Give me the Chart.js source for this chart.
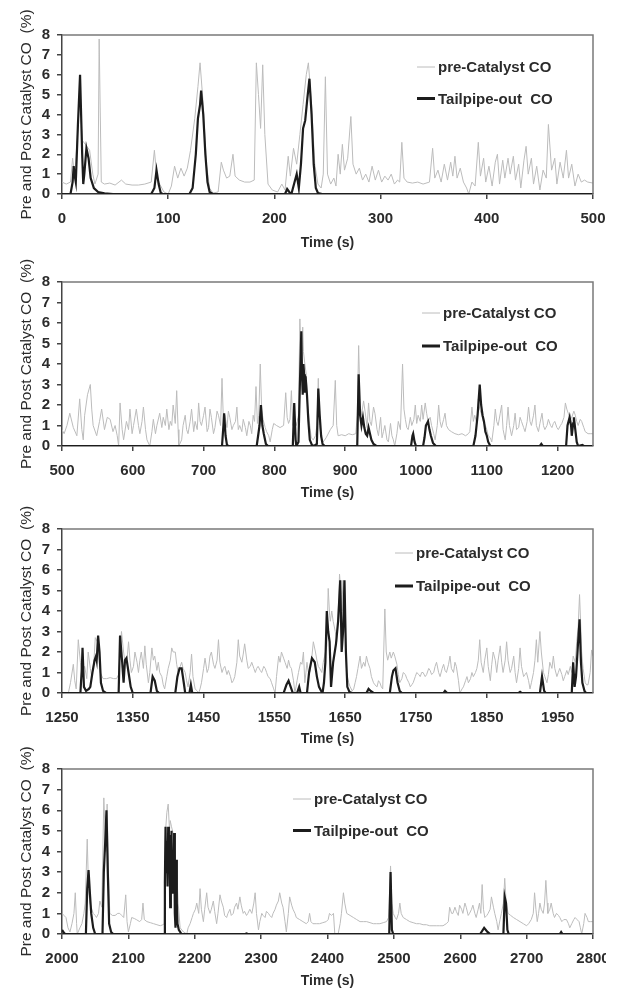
<!DOCTYPE html>
<html>
<head>
<meta charset="utf-8">
<script src="https://cdn.jsdelivr.net/npm/chart.js@4.4.1/dist/chart.umd.min.js"></script>
<style>
  body { margin: 0; background: #fff; }
  .panel { position: absolute; left: 0; width: 606px; overflow: hidden; }
</style>
</head>
<body>
<div class="panel" style="top:0;height:252px"><canvas id="c1"></canvas></div>
<div class="panel" style="top:247px;height:255px"><canvas id="c2"></canvas></div>
<div class="panel" style="top:494px;height:254px"><canvas id="c3"></canvas></div>
<div class="panel" style="top:734px;height:256px"><canvas id="c4"></canvas></div>
<script>
// series labels
var seriesNames = ['pre-Catalyst CO', 'Tailpipe-out  CO'];

// tick labels
var yTicks = [0, 1, 2, 3, 4, 5, 6, 7, 8];
var ticks1 = [0, 100, 200, 300, 400, 500];
var ticks2 = [500, 600, 700, 800, 900, 1000, 1100, 1200];
var ticks3 = [1250, 1350, 1450, 1550, 1650, 1750, 1850, 1950];
var ticks4 = [2000, 2100, 2200, 2300, 2400, 2500, 2600, 2700, 2800];

// [time (s), CO (%)]
var pre1 = [[0,0.6],[4,0.5],[8,0.6],[10,1.8],[12,0.9],[14,2.5],[17,5.0],[19,2.7],[22,2.5],[26,2.2],[29,1.0],[31,0.5],[34,1.0],[35,7.8],[37,0.6],[40,0.5],[45,0.55],[50,0.45],[56,0.7],[60,0.5],[66,0.45],[72,0.45],[78,0.5],[84,0.6],[87,2.2],[89,1.0],[92,0.5],[96,0.1],[100,0.0],[103,0.4],[106,1.4],[109,0.8],[112,1.3],[115,0.9],[118,1.3],[121,2.2],[125,3.8],[128,5.4],[130,6.6],[133,4.5],[136,1.5],[139,0.3],[142,0.05],[147,0.1],[150,1.6],[152,1.2],[155,0.8],[158,0.9],[161,2.0],[163,0.9],[167,0.7],[172,0.6],[177,0.6],[181,0.7],[183,6.6],[185,5.0],[187,3.3],[189,6.5],[191,3.0],[194,0.5],[198,0.2],[203,0.1],[207,0.5],[210,0.2],[213,1.9],[215,0.9],[218,2.3],[221,1.5],[224,3.0],[227,4.5],[230,6.0],[232,6.6],[235,4.5],[238,1.5],[241,0.5],[244,0.3],[246,1.0],[248,5.9],[250,1.0],[253,0.5],[256,0.8],[258,0.4],[260,2.0],[262,1.0],[264,2.5],[266,1.2],[269,1.8],[272,3.9],[274,1.5],[277,1.0],[280,1.3],[283,0.7],[286,1.0],[289,0.6],[292,1.4],[295,0.7],[298,1.2],[301,0.6],[304,0.9],[307,0.7],[310,1.0],[313,0.5],[316,0.7],[318,0.6],[320,2.6],[322,0.8],[325,0.6],[330,0.55],[335,0.6],[340,0.5],[346,0.6],[349,2.3],[351,0.8],[354,1.2],[357,0.6],[360,1.5],[363,0.7],[366,1.6],[368,0.9],[370,1.9],[372,0.8],[375,1.3],[378,0.6],[381,0.3],[383,0.0],[386,0.6],[389,0.4],[392,2.6],[394,0.9],[397,1.8],[399,0.6],[402,1.4],[405,0.4],[408,1.6],[410,2.0],[412,0.5],[415,1.7],[417,0.8],[420,1.8],[422,1.0],[425,1.9],[427,0.7],[430,1.5],[432,0.3],[435,1.7],[437,2.4],[439,1.0],[442,1.8],[444,0.5],[447,1.4],[450,0.2],[453,1.2],[456,0.8],[458,3.5],[461,1.2],[464,1.8],[466,0.5],[469,1.6],[472,0.8],[475,2.2],[477,0.8],[480,1.5],[483,0.4],[486,1.0],[489,0.6],[492,0.7],[495,0.6],[500,0.55]];
var tail1 = [[0,0],[8,0],[10,0.6],[11,1.4],[12,0.9],[13,0.6],[15,3.5],[17,6.0],[19,2.0],[20,0.5],[21,1.0],[23,2.3],[25,1.8],[27,0.8],[30,0.3],[34,0.1],[40,0.03],[48,0],[84,0],[87,0.3],[89,1.2],[91,0.5],[93,0.05],[95,0],[120,0],[123,0.3],[126,2.0],[128,3.8],[130,4.5],[131,5.2],[133,4.0],[135,2.0],[137,0.6],[139,0.1],[142,0],[210,0],[212,0.25],[214,0.1],[216,0],[219,0.6],[221,1.0],[223,0.3],[225,1.5],[227,3.3],[229,3.7],[231,4.8],[233,5.8],[235,4.0],[237,1.5],[239,0.3],[241,0.05],[245,0],[500,0]];

var pre2 = [[500,0.8],[503,0.6],[507,1.0],[511,1.6],[516,0.9],[521,0.5],[525,2.3],[528,0.8],[530,0.3],[532,1.5],[536,2.5],[540,3.0],[542,1.8],[544,1.0],[549,0.5],[553,1.2],[556,1.8],[560,0.8],[564,1.4],[568,1.3],[572,0.7],[575,1.0],[578,0.5],[580,0.0],[582,2.1],[585,0.8],[587,0.3],[591,1.2],[594,0.8],[596,1.8],[599,0.6],[601,1.0],[605,1.8],[608,1.0],[610,0.6],[613,1.2],[615,1.9],[618,0.8],[620,0.3],[624,0.0],[627,0.7],[629,1.3],[632,0.6],[634,1.0],[638,1.6],[641,0.9],[643,1.4],[646,1.0],[648,1.8],[651,0.8],[653,1.2],[655,1.0],[657,2.0],[660,1.1],[662,2.7],[664,0.8],[665,0.0],[669,0.3],[671,1.0],[674,1.5],[676,0.8],[678,0.6],[681,1.2],[683,1.8],[686,0.7],[688,1.2],[691,0.8],[693,2.1],[695,1.2],[697,1.0],[700,1.5],[702,1.9],[705,0.7],[707,0.9],[709,1.8],[711,1.4],[714,0.6],[716,0.9],[719,1.7],[721,1.5],[724,1.0],[726,3.3],[728,1.2],[730,1.5],[733,0.9],[735,1.7],[737,1.4],[740,0.8],[742,1.0],[745,1.2],[747,1.9],[749,0.8],[751,1.0],[754,0.7],[756,1.3],[759,0.9],[761,0.5],[764,1.2],[766,1.0],[768,0.6],[770,1.5],[772,1.2],[774,2.9],[776,1.1],[778,1.5],[780,4.0],[782,1.8],[784,1.3],[787,0.9],[789,0.7],[792,0.5],[794,0.2],[797,0.8],[799,1.1],[803,1.0],[808,0.9],[813,1.0],[816,2.6],[818,1.4],[820,1.1],[822,1.3],[824,2.7],[826,1.0],[828,1.5],[831,1.0],[834,1.5],[836,6.2],[838,4.0],[840,5.8],[841,4.6],[843,4.0],[845,3.5],[847,2.0],[850,1.0],[852,0.4],[855,0.3],[858,0.5],[860,1.0],[862,3.3],[864,1.0],[866,0.4],[869,0.2],[873,0.4],[879,0.8],[883,1.0],[886,3.2],[888,1.0],[890,0.5],[895,0.55],[900,0.5],[905,0.6],[910,0.55],[915,0.6],[917,1.5],[919,4.9],[921,2.0],[923,1.5],[926,2.2],[928,1.7],[931,0.9],[933,2.1],[935,1.2],[937,1.0],[940,1.9],[942,1.6],[945,0.8],[947,0.5],[950,1.4],[952,0.4],[954,0.7],[956,1.0],[959,0.3],[961,0.2],[964,1.1],[966,0.5],[968,0.3],[970,0.0],[973,0.6],[975,1.2],[978,0.8],[981,4.0],[983,1.8],[985,1.3],[987,0.9],[989,0.8],[992,1.4],[994,1.0],[997,1.3],[999,2.0],[1001,1.1],[1003,1.5],[1006,1.2],[1008,2.0],[1010,1.3],[1013,2.1],[1015,1.6],[1017,1.2],[1020,1.4],[1022,1.0],[1025,0.6],[1027,0.3],[1030,1.0],[1032,2.0],[1034,1.2],[1036,0.9],[1039,1.3],[1041,1.6],[1043,1.0],[1046,0.8],[1050,0.7],[1055,0.6],[1060,0.55],[1065,0.6],[1070,0.5],[1074,0.6],[1076,0.7],[1079,1.9],[1081,1.2],[1083,1.5],[1086,1.1],[1088,2.3],[1090,1.8],[1093,1.5],[1095,1.2],[1098,1.0],[1100,0.8],[1102,0.5],[1105,0.4],[1107,0.2],[1110,1.0],[1112,1.8],[1114,1.2],[1116,1.0],[1119,1.6],[1121,2.0],[1123,0.8],[1126,0.3],[1128,1.0],[1130,1.9],[1132,1.0],[1135,0.5],[1138,1.0],[1140,1.6],[1142,0.8],[1145,0.9],[1147,1.4],[1149,1.2],[1152,0.9],[1154,0.7],[1157,1.2],[1159,1.9],[1161,1.2],[1163,1.0],[1166,1.5],[1168,2.0],[1170,1.0],[1173,0.7],[1175,1.1],[1178,1.6],[1180,1.0],[1182,0.8],[1185,1.0],[1187,1.3],[1190,1.0],[1192,0.9],[1194,1.1],[1196,1.2],[1199,0.9],[1201,0.8],[1204,1.0],[1206,1.1],[1209,1.4],[1211,2.1],[1213,1.8],[1215,1.6],[1218,1.3],[1220,1.4],[1223,1.7],[1225,1.5],[1227,1.2],[1229,1.0],[1232,1.3],[1234,1.2],[1237,0.9],[1239,0.7],[1243,0.6],[1247,0.6],[1250,0.6]];
var tail2 = [[500,0],[726,0],[728,1.0],[729,1.6],[731,0.5],[733,0.05],[735,0],[775,0],[777,0.5],[779,1.0],[781,2.0],[783,1.0],[785,0.6],[788,0.1],[791,0],[826,0],[828,2.1],[830,0.3],[831,0],[834,0.2],[836,3.0],[838,5.6],[839,3.5],[840,2.5],[841,4.0],[842,3.5],[843,2.6],[844,3.4],[846,2.5],[848,1.2],[850,0.3],[853,0.05],[856,0],[860,0.1],[862,2.8],[864,1.5],[866,0.5],[868,0.1],[871,0],[917,0],[919,3.5],[921,1.5],[923,1.0],[925,1.4],[927,0.9],[929,0.6],[931,0.5],[933,0.9],[935,0.6],[937,0.3],[940,0.1],[944,0],[993,0],[995,0.5],[996,0.6],[998,0.2],[1000,0],[1010,0],[1012,0.4],[1014,1.0],[1017,1.2],[1019,0.8],[1021,0.5],[1024,0.15],[1028,0],[1081,0],[1084,0.5],[1087,1.5],[1090,3.0],[1092,2.0],[1094,1.5],[1096,1.2],[1098,0.7],[1100,0.5],[1102,0.2],[1105,0],[1175,0],[1177,0.1],[1179,0],[1212,0],[1214,1.0],[1217,1.4],[1219,1.0],[1220,0.5],[1222,1.1],[1223,1.4],[1225,0.8],[1227,0.2],[1229,0],[1235,0.05],[1237,0],[1250,0]];

var pre3 = [[1250,0.0],[1259,0.0],[1262,0.5],[1266,1.4],[1268,0.6],[1270,0.2],[1273,2.6],[1276,1.5],[1278,0.9],[1282,1.3],[1285,0.7],[1287,2.0],[1290,1.2],[1292,0.8],[1295,1.5],[1297,2.7],[1300,2.5],[1302,1.8],[1304,1.0],[1308,0.7],[1313,0.7],[1318,0.75],[1323,0.7],[1327,0.7],[1330,0.9],[1334,3.0],[1337,2.0],[1339,1.5],[1342,1.7],[1344,2.5],[1346,1.6],[1348,1.0],[1351,1.3],[1353,2.0],[1356,1.5],[1358,1.0],[1360,1.6],[1362,2.0],[1365,1.2],[1367,2.3],[1369,1.4],[1372,0.5],[1374,1.0],[1377,2.2],[1379,1.6],[1381,1.8],[1384,1.1],[1386,1.5],[1388,1.0],[1391,0.8],[1393,0.4],[1395,0.2],[1398,0.8],[1400,1.2],[1403,1.6],[1405,2.2],[1407,2.0],[1410,2.0],[1412,1.4],[1414,1.0],[1417,1.3],[1419,1.5],[1421,1.2],[1424,1.0],[1426,0.6],[1428,0.3],[1431,1.0],[1433,1.9],[1435,0.8],[1438,0.2],[1441,0.1],[1443,0.0],[1445,0.2],[1447,0.5],[1450,1.2],[1452,1.7],[1455,1.0],[1457,1.2],[1459,1.8],[1461,2.0],[1464,1.4],[1466,1.2],[1469,1.6],[1471,2.6],[1473,1.5],[1476,1.0],[1478,1.2],[1480,1.3],[1483,0.9],[1485,1.1],[1488,0.8],[1490,0.5],[1492,0.6],[1494,0.8],[1497,1.5],[1499,2.6],[1501,1.8],[1504,1.5],[1506,1.9],[1508,2.4],[1511,1.6],[1513,1.2],[1516,1.3],[1518,1.5],[1521,1.2],[1523,1.0],[1525,1.2],[1527,1.3],[1530,1.1],[1532,1.0],[1535,1.3],[1537,1.2],[1539,1.0],[1541,0.8],[1544,0.7],[1546,0.5],[1549,0.2],[1551,0.0],[1553,0.8],[1556,1.8],[1558,1.5],[1560,2.0],[1563,1.7],[1565,1.5],[1568,1.2],[1570,1.6],[1572,1.3],[1574,1.2],[1577,0.6],[1579,0.0],[1582,0.6],[1584,1.0],[1587,1.5],[1589,1.4],[1591,2.0],[1593,0.5],[1596,1.5],[1598,1.0],[1600,1.0],[1603,1.8],[1605,2.5],[1608,2.0],[1610,1.6],[1612,1.3],[1614,1.2],[1617,1.0],[1619,1.5],[1621,1.8],[1624,2.3],[1626,5.1],[1628,3.8],[1629,3.5],[1631,4.0],[1633,3.5],[1636,3.0],[1638,2.5],[1640,3.8],[1642,5.8],[1644,4.8],[1645,4.0],[1647,5.5],[1649,4.5],[1651,2.0],[1652,1.0],[1655,0.5],[1657,0.3],[1660,0.1],[1662,0.2],[1664,0.5],[1666,0.8],[1668,1.2],[1671,1.8],[1673,1.2],[1676,1.5],[1678,1.3],[1680,1.8],[1682,1.5],[1685,1.2],[1687,0.8],[1690,0.5],[1692,0.4],[1695,0.3],[1697,0.6],[1699,0.5],[1701,0.3],[1703,0.2],[1706,4.1],[1708,2.0],[1710,1.6],[1713,2.0],[1715,1.7],[1718,2.0],[1720,1.8],[1723,1.4],[1725,0.9],[1727,0.5],[1730,0.7],[1732,1.0],[1735,0.9],[1737,0.7],[1740,0.5],[1742,0.3],[1744,0.4],[1746,0.5],[1749,0.8],[1751,1.0],[1754,0.9],[1756,0.8],[1758,1.0],[1760,1.0],[1763,0.8],[1765,0.9],[1768,1.2],[1770,1.1],[1772,0.9],[1775,1.0],[1777,1.3],[1779,1.5],[1782,1.0],[1784,0.8],[1787,1.2],[1789,1.4],[1791,1.1],[1793,1.0],[1796,1.4],[1798,1.8],[1800,1.2],[1803,1.0],[1805,1.5],[1807,1.3],[1810,0.6],[1812,0.0],[1815,0.2],[1817,0.3],[1820,0.6],[1822,0.8],[1824,0.5],[1827,0.7],[1829,1.0],[1831,0.8],[1834,1.0],[1836,1.2],[1838,1.6],[1840,2.6],[1842,1.5],[1845,1.0],[1847,1.6],[1850,2.2],[1852,1.3],[1855,0.6],[1857,1.4],[1859,2.0],[1862,1.6],[1864,1.0],[1866,1.6],[1869,2.3],[1871,1.5],[1873,1.0],[1876,1.6],[1878,2.5],[1880,1.6],[1883,1.0],[1885,1.2],[1888,1.8],[1890,1.0],[1892,0.5],[1895,1.2],[1897,2.2],[1899,1.3],[1902,0.8],[1904,0.9],[1906,1.0],[1909,0.6],[1911,0.2],[1913,0.5],[1916,1.0],[1918,1.6],[1920,2.6],[1922,1.5],[1925,3.0],[1927,2.0],[1930,1.0],[1932,0.8],[1935,0.5],[1937,0.9],[1939,1.5],[1942,1.2],[1944,1.8],[1946,1.2],[1949,0.8],[1951,1.0],[1953,1.2],[1956,0.9],[1958,0.6],[1960,0.8],[1963,1.1],[1965,0.9],[1968,1.3],[1970,1.0],[1972,1.8],[1975,1.5],[1977,2.5],[1979,3.2],[1981,4.8],[1983,3.0],[1984,2.0],[1986,1.2],[1989,0.5],[1991,0.4],[1993,0.4],[1996,1.0],[1998,2.1],[2000,1.8]];
var tail3 = [[1250,0],[1276,0],[1278,1.2],[1279,2.2],[1281,0.3],[1284,0.1],[1288,0.2],[1290,0.3],[1293,1.0],[1296,1.6],[1298,1.8],[1299,1.6],[1301,2.8],[1303,2.0],[1305,0.5],[1308,0.1],[1312,0],[1330,0],[1332,2.8],[1335,1.5],[1337,0.5],[1339,1.6],[1341,1.7],[1344,1.0],[1347,0.3],[1350,0],[1375,0],[1378,0.8],[1381,0.6],[1384,0.1],[1387,0],[1410,0],[1413,0.8],[1416,1.2],[1419,1.2],[1422,0.5],[1424,0],[1430,0],[1432,0.4],[1434,0],[1563,0],[1567,0.4],[1570,0.6],[1573,0.3],[1576,0],[1582,0],[1585,0.3],[1587,0],[1596,0],[1599,1.0],[1603,1.7],[1607,1.5],[1610,0.8],[1613,0.3],[1616,0.1],[1618,0],[1620,0.5],[1622,1.5],[1624,4.0],[1626,3.0],[1628,2.5],[1630,0.3],[1633,1.5],[1637,2.4],[1640,3.5],[1643,5.5],[1645,2.0],[1647,3.0],[1649,5.5],[1651,2.0],[1653,0.3],[1656,0.05],[1660,0],[1680,0],[1683,0.2],[1686,0.1],[1690,0],[1713,0],[1716,0.8],[1718,1.1],[1721,1.2],[1724,0.5],[1727,0.1],[1730,0],[1789,0],[1791,0.1],[1794,0],[1895,0],[1897,0.05],[1899,0],[1925,0],[1928,0.8],[1931,0.1],[1933,0],[1970,0],[1972,1.5],[1974,0.3],[1976,0.8],[1979,2.5],[1981,3.6],[1983,1.5],[1985,0.5],[1988,0.1],[1990,0],[2000,0]];

var pre4 = [[2000,1.0],[2003,0.9],[2006,0.8],[2009,0.3],[2012,0.1],[2015,0.5],[2018,1.0],[2020,2.0],[2022,0.5],[2023,0.0],[2027,0.3],[2030,0.5],[2033,1.0],[2035,1.5],[2038,4.6],[2040,2.2],[2042,1.5],[2045,1.2],[2047,1.0],[2050,0.9],[2052,0.8],[2055,1.0],[2057,1.6],[2060,1.3],[2063,6.6],[2066,4.0],[2068,6.3],[2070,3.0],[2072,1.0],[2076,0.9],[2080,0.9],[2084,1.0],[2087,1.0],[2090,0.9],[2093,0.8],[2096,1.9],[2098,0.6],[2100,0.1],[2103,0.5],[2105,0.8],[2109,0.75],[2112,0.7],[2117,0.6],[2120,0.7],[2122,1.5],[2124,0.7],[2128,0.6],[2133,0.55],[2138,0.5],[2143,0.45],[2148,0.4],[2152,0.45],[2154,0.5],[2156,5.0],[2158,5.9],[2160,6.3],[2162,5.0],[2163,5.5],[2165,5.2],[2168,4.8],[2170,4.0],[2173,3.0],[2175,1.5],[2178,0.3],[2183,0.1],[2188,0.0],[2190,0.3],[2193,0.5],[2196,0.8],[2198,1.0],[2201,1.2],[2203,1.5],[2206,1.0],[2208,2.2],[2210,1.2],[2213,0.6],[2215,1.2],[2218,2.0],[2220,1.3],[2223,1.0],[2225,1.2],[2228,1.6],[2230,1.1],[2233,0.5],[2235,1.0],[2238,1.9],[2240,1.6],[2243,1.3],[2245,0.9],[2248,0.8],[2250,1.0],[2253,1.2],[2255,0.9],[2258,1.0],[2260,1.3],[2263,1.5],[2265,1.2],[2268,1.8],[2270,1.4],[2273,1.0],[2275,1.1],[2278,0.9],[2280,1.0],[2283,1.2],[2286,1.0],[2289,1.5],[2291,2.0],[2293,1.0],[2296,0.2],[2298,0.6],[2301,1.0],[2303,0.9],[2306,0.8],[2308,1.1],[2311,1.0],[2313,0.9],[2316,0.8],[2318,1.0],[2321,1.2],[2323,1.4],[2326,1.6],[2328,2.0],[2331,1.5],[2333,1.3],[2336,0.6],[2338,0.1],[2341,1.0],[2343,1.8],[2346,1.4],[2348,1.2],[2351,1.0],[2353,0.8],[2358,0.7],[2363,0.6],[2368,0.5],[2371,0.6],[2373,1.0],[2375,0.6],[2378,0.5],[2383,0.5],[2388,0.5],[2393,0.55],[2398,0.6],[2401,0.7],[2403,1.0],[2406,0.9],[2409,1.0],[2411,0.0],[2416,0.0],[2419,0.5],[2421,1.0],[2424,2.0],[2426,1.5],[2429,1.0],[2434,0.9],[2439,0.8],[2444,0.7],[2449,0.6],[2454,0.6],[2459,0.6],[2464,0.55],[2469,0.5],[2474,0.5],[2479,0.5],[2484,0.55],[2489,0.6],[2492,0.8],[2495,3.3],[2497,1.5],[2499,1.0],[2502,0.8],[2504,0.7],[2507,1.0],[2509,1.5],[2511,1.0],[2514,0.8],[2519,0.7],[2524,0.6],[2529,0.55],[2534,0.5],[2539,0.5],[2544,0.45],[2549,0.45],[2554,0.4],[2559,0.4],[2564,0.4],[2569,0.4],[2574,0.4],[2579,0.5],[2582,0.6],[2584,1.3],[2587,1.0],[2589,1.0],[2592,1.3],[2594,1.1],[2597,0.9],[2599,1.4],[2602,1.2],[2604,1.0],[2607,1.5],[2609,1.3],[2612,0.9],[2614,1.0],[2617,1.2],[2619,1.4],[2622,1.0],[2624,0.8],[2627,1.2],[2629,1.5],[2631,1.0],[2633,2.4],[2635,1.2],[2637,0.8],[2640,0.9],[2642,1.0],[2645,1.2],[2647,1.8],[2650,1.3],[2652,1.0],[2655,0.6],[2657,0.2],[2660,0.7],[2662,1.0],[2665,1.5],[2667,2.7],[2669,1.6],[2672,1.0],[2676,0.9],[2680,0.8],[2685,0.7],[2690,0.6],[2695,0.5],[2700,0.4],[2703,0.5],[2707,0.7],[2710,1.0],[2712,2.0],[2714,1.2],[2716,0.6],[2718,1.0],[2720,1.5],[2722,1.2],[2725,1.0],[2727,1.5],[2729,2.6],[2731,1.5],[2732,1.0],[2735,1.2],[2737,1.5],[2740,1.0],[2742,0.8],[2745,1.0],[2748,0.9],[2750,0.8],[2753,0.6],[2756,0.7],[2760,0.7],[2763,0.5],[2765,0.3],[2768,0.5],[2771,0.7],[2773,0.8],[2776,0.7],[2779,0.6],[2781,0.3],[2783,0.0],[2786,0.5],[2788,1.0],[2791,0.8],[2793,0.6],[2796,0.6],[2800,0.6]];
var tail4 = [[2000,0.2],[2003,0.05],[2005,0],[2036,0],[2038,2.2],[2040,3.1],[2042,2.0],[2044,1.0],[2047,0.3],[2050,0],[2061,0],[2063,3.0],[2065,4.4],[2067,6.0],[2069,3.0],[2071,0.5],[2074,0.1],[2077,0],[2154,0],[2155,2.5],[2156,5.2],[2157,3.0],[2158,4.5],[2159,2.3],[2160,5.2],[2161,3.5],[2162,4.8],[2163,1.3],[2164,3.0],[2165,5.0],[2166,2.0],[2167,4.0],[2168,2.5],[2169,4.9],[2170,1.0],[2171,0.3],[2172,3.6],[2173,1.5],[2174,0.5],[2176,0.2],[2180,0],[2276,0],[2278,0.03],[2280,0],[2493,0],[2495,3.0],[2497,0.2],[2499,0],[2630,0],[2636,0.3],[2641,0.1],[2645,0],[2665,0],[2667,1.8],[2669,1.5],[2671,0.2],[2673,0],[2750,0],[2752,0.1],[2754,0],[2800,0]];

var FONT = '"Liberation Sans", Arial, sans-serif';
var TEXT = '#2b2b2b';
var GREY = '#bcbcbc';
var BLACK = '#1c1c1c';

// legend drawn inside the plot, offsets from the plot's top-left corner
var insideLegend = {
  id: 'insideLegend',
  afterDatasetsDraw: function (chart, args, opts) {
    var ctx = chart.ctx, area = chart.chartArea;
    ctx.save();
    ctx.font = 'bold 15px ' + FONT;
    ctx.textBaseline = 'middle';
    ctx.fillStyle = TEXT;
    chart.data.datasets.forEach(function (ds, i) {
      var x = area.left + opts.x;
      var y = area.top + opts.y + i * opts.gap;
      ctx.strokeStyle = ds.borderColor;
      ctx.lineWidth = i === 0 ? 1 : 3;
      ctx.beginPath();
      ctx.moveTo(x, y);
      ctx.lineTo(x + 18, y);
      ctx.stroke();
      ctx.fillText(ds.label, x + 21, y + 1);
    });
    ctx.restore();
  }
};

// top and right edges of the plot box
var boxFrame = {
  id: 'boxFrame',
  afterDraw: function (chart) {
    var ctx = chart.ctx, a = chart.chartArea;
    ctx.save();
    ctx.strokeStyle = '#7a7a7a';
    ctx.lineWidth = 1.5;
    ctx.beginPath();
    ctx.moveTo(a.left, a.top);
    ctx.lineTo(a.right, a.top);
    ctx.lineTo(a.right, a.bottom);
    ctx.stroke();
    ctx.restore();
  }
};

function toXY(list) {
  return list.map(function (p) { return { x: p[0], y: p[1] }; });
}

function fixedTicks(values) {
  return function (s) {
    s.ticks = values.map(function (v) { return { value: v }; });
  };
}

function makePanel(id, pre, tail, xmin, xmax, xticks, axisH, legend) {
  return new Chart(document.getElementById(id), {
    type: 'line',
    data: {
      datasets: [{
        label: seriesNames[0],
        data: toXY(pre),
        borderColor: GREY,
        borderWidth: 1,
        pointRadius: 0,
        tension: 0,
        order: 1
      }, {
        label: seriesNames[1],
        data: toXY(tail),
        borderColor: BLACK,
        borderWidth: 2.2,
        pointRadius: 0,
        tension: 0,
        order: 0
      }]
    },
    options: {
      responsive: true,
      maintainAspectRatio: false,
      animation: false,
      layout: { padding: { top: 35, right: 13, left: 0, bottom: 0 } },
      plugins: {
        legend: { display: false },
        tooltip: { enabled: false },
        insideLegend: legend
      },
      scales: {
        x: {
          type: 'linear',
          min: xmin,
          max: xmax,
          afterBuildTicks: fixedTicks(xticks),
          afterFit: function (s) {
            s.height = axisH;
            s.paddingLeft = 0;
            s.paddingRight = 0;
          },
          ticks: {
            autoSkip: false,
            maxRotation: 0,
            color: TEXT,
            padding: 11,
            font: { family: FONT, size: 15, weight: 'bold' },
            callback: function (v) { return String(v); }
          },
          grid: { drawOnChartArea: false, tickLength: 5, color: '#444', lineWidth: 1.5 },
          border: { color: '#333', width: 1.5 },
          title: {
            display: true,
            text: 'Time (s)',
            color: TEXT,
            padding: 0,
            font: { family: FONT, size: 14, weight: 'bold' }
          }
        },
        y: {
          min: 0,
          max: 8,
          afterBuildTicks: fixedTicks(yTicks),
          afterFit: function (s) {
            s.width = 62;
            s.paddingTop = 0;
            s.paddingBottom = 0;
          },
          ticks: {
            autoSkip: false,
            color: TEXT,
            padding: 7,
            font: { family: FONT, size: 15, weight: 'bold' },
            callback: function (v) { return String(v); }
          },
          grid: { drawOnChartArea: false, tickLength: 5, color: '#444', lineWidth: 1.5 },
          border: { color: '#444', width: 1.5 },
          title: {
            display: true,
            text: 'Pre and Post Catalyst CO  (%)',
            color: TEXT,
            padding: { top: 17, bottom: 0 },
            font: { family: FONT, size: 15.5 }
          }
        }
      }
    },
    plugins: [insideLegend, boxFrame]
  });
}

makePanel('c1', pre1, tail1, 0, 500, ticks1, 58, { x: 355, y: 32, gap: 31.5 });
makePanel('c2', pre2, tail2, 500, 1250, ticks2, 56, { x: 360, y: 31, gap: 33 });
makePanel('c3', pre3, tail3, 1250, 2000, ticks3, 55, { x: 333, y: 24, gap: 33 });
makePanel('c4', pre4, tail4, 2000, 2800, ticks4, 56, { x: 231, y: 30, gap: 31.5 });
</script>
</body>
</html>
